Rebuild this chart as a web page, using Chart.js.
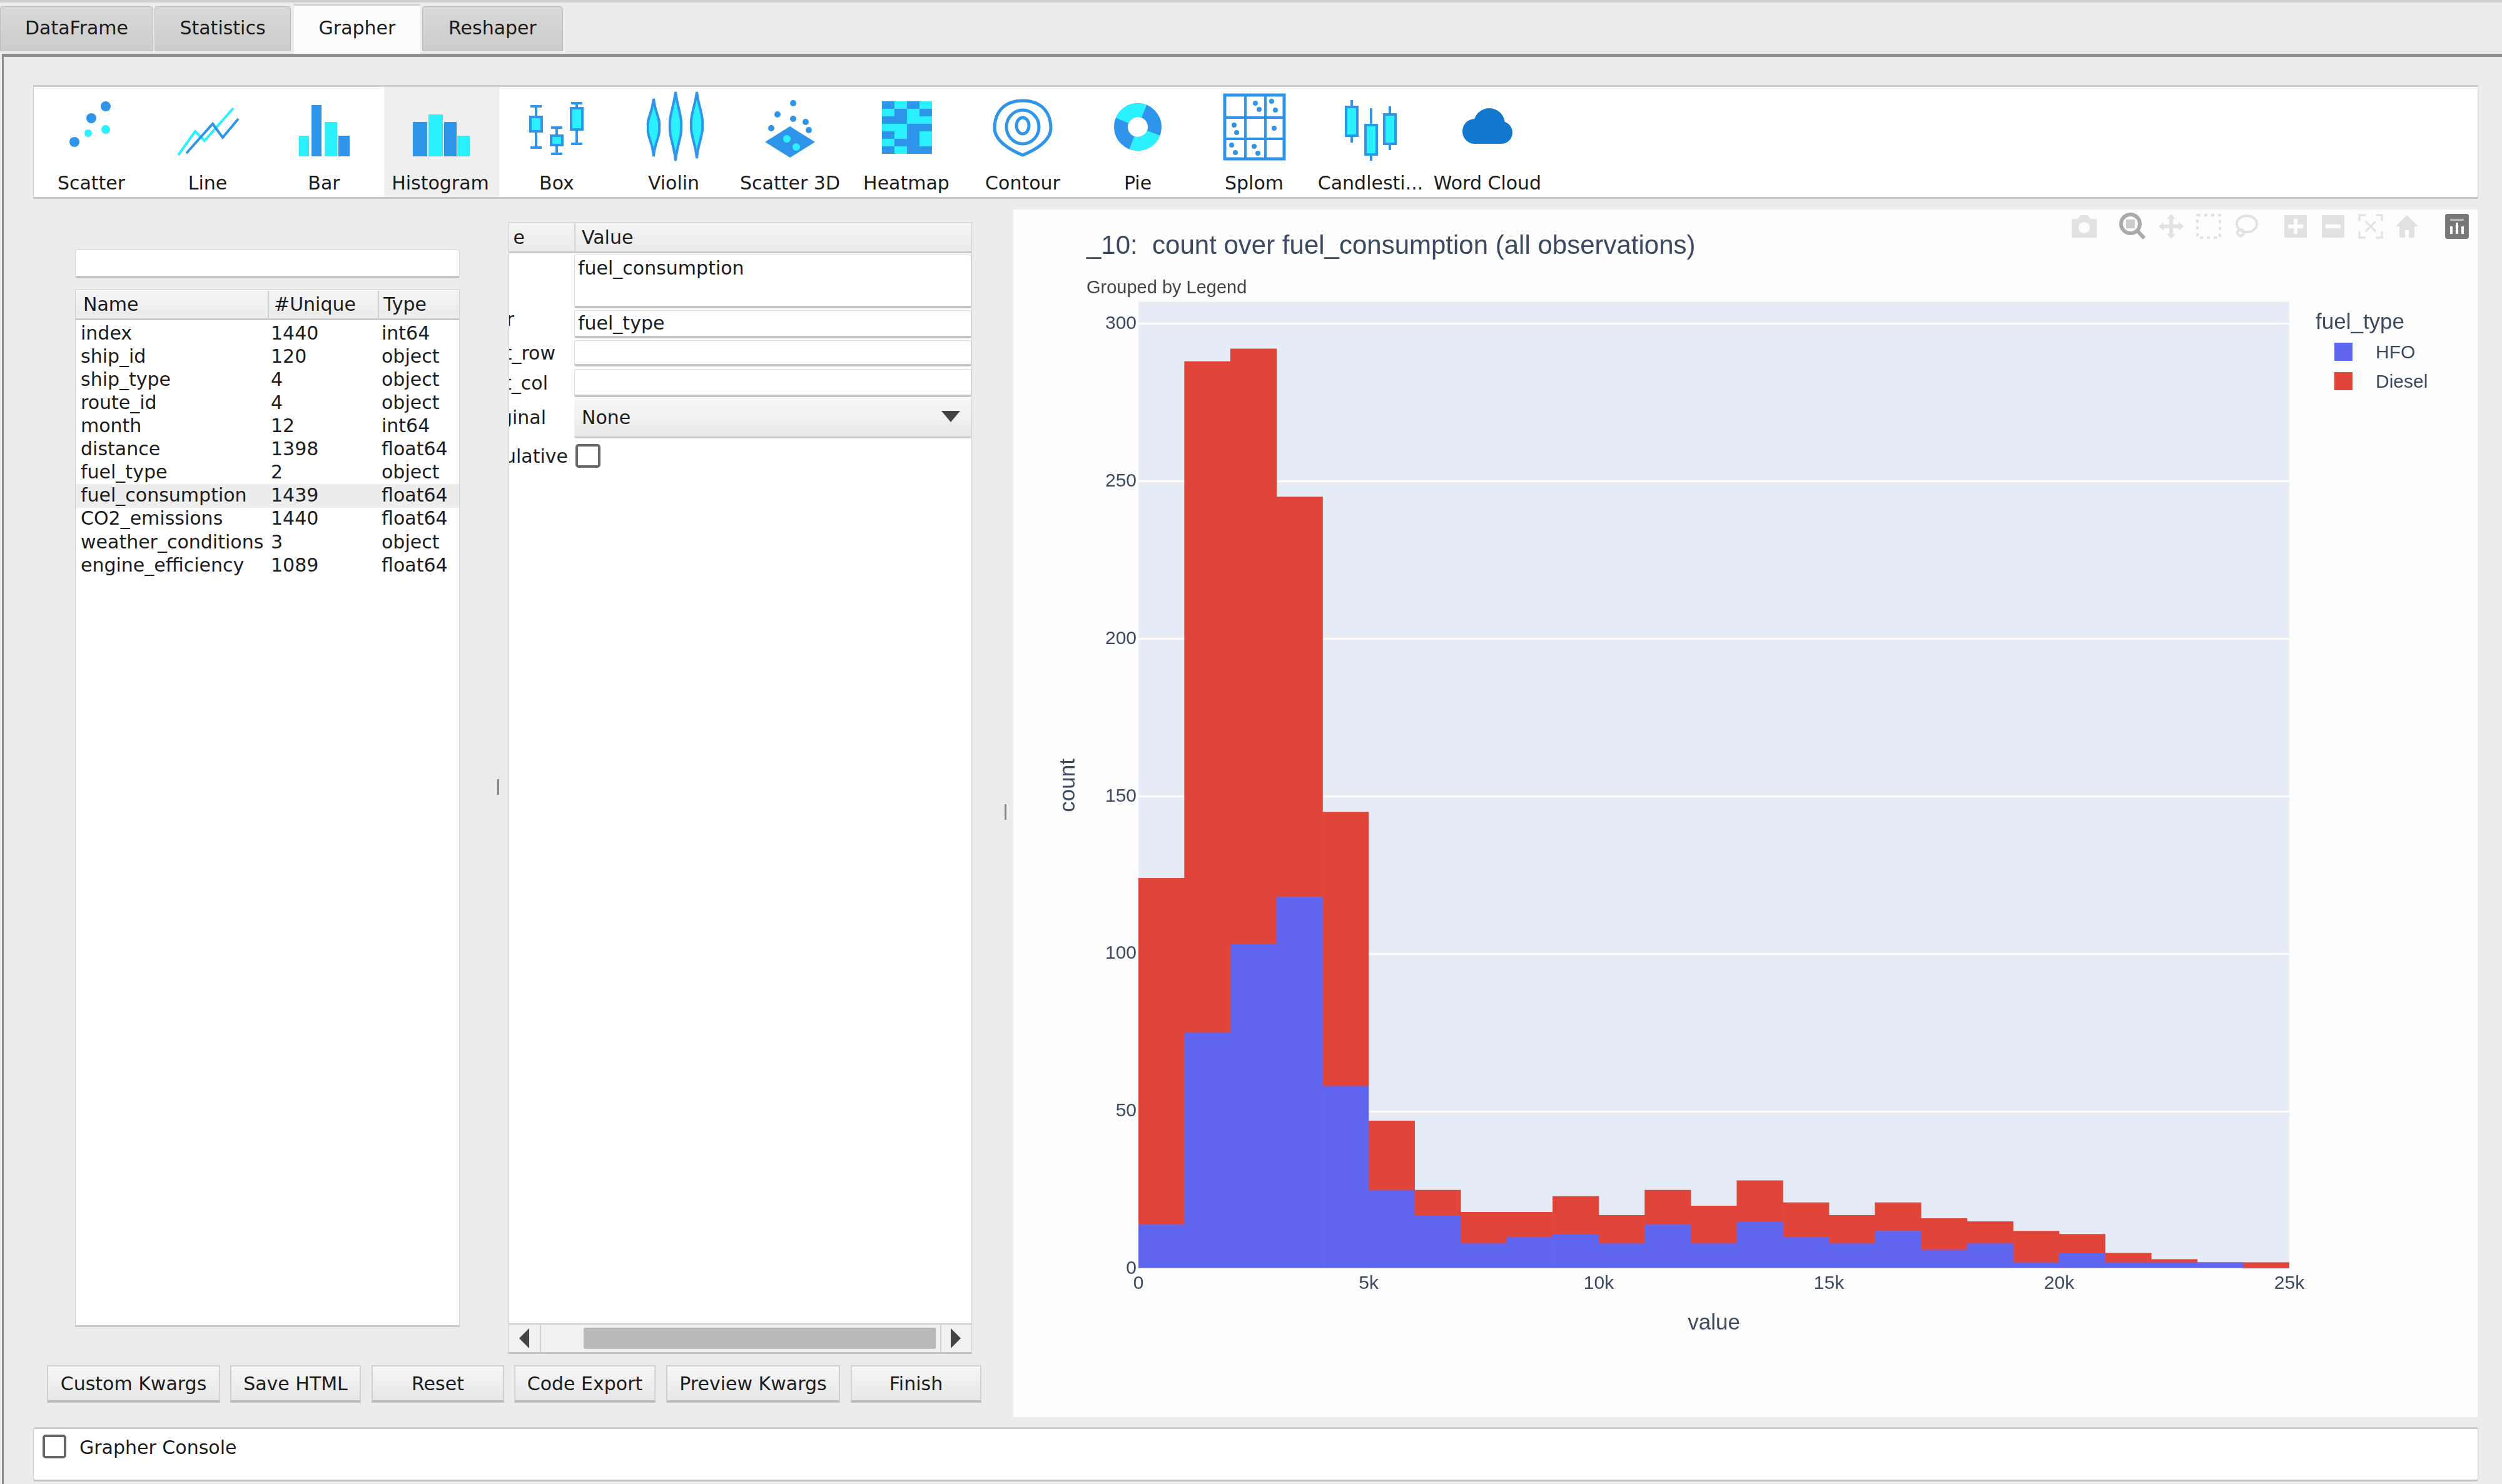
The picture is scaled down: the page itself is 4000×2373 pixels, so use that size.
<!DOCTYPE html>
<html>
<head>
<meta charset="utf-8">
<script src="https://cdn.jsdelivr.net/npm/chart.js@4"></script>
<style>
html, body { margin: 0; padding: 0; background: #ececec; }
#page { position: relative; width: 4000px; height: 2373px; overflow: hidden; font-family: "DejaVu Sans", sans-serif; font-size: 30px; color: #1c1c1c; }
#page div, #page svg { position: absolute; box-sizing: border-box; }
.txt { white-space: pre; line-height: 40px; height: 40px; }
.field { background: #fff; border: 1px solid #d8d8d8; border-bottom: 4px solid #c4c4c4; border-radius: 4px; }
.btn { background: linear-gradient(#f7f7f7, #e6e6e6); border: 2px solid #d0d0d0; border-bottom: 4px solid #bdbdbd; text-align: center; line-height: 56px; white-space: pre; }
.check { background: #fff; border: 4px solid #666; border-radius: 5px; }
#plot { left: 1620px; top: 335px; }
</style>
</head>
<body>
<div id="page"></div>
<script>
"use strict";

// histogram counts per 1k bin of fuel_consumption
const bin_centers = [500, 1500, 2500, 3500, 4500, 5500, 6500, 7500, 8500, 9500, 10500, 11500, 12500, 13500, 14500, 15500, 16500, 17500, 18500, 19500, 20500, 21500, 22500, 23500, 24500]
const hfo_counts = [14, 75, 103, 118, 58, 25, 17, 8, 10, 11, 8, 14, 8, 15, 10, 8, 12, 6, 8, 2, 5, 2, 2, 2, 0]
const diesel_counts = [110, 213, 189, 127, 87, 22, 8, 10, 8, 12, 9, 11, 12, 13, 11, 9, 9, 10, 7, 10, 6, 3, 1, 0, 2]

const x_ticks = [0, 5000, 10000, 15000, 20000, 25000]
const x_tick_labels = ["0", "5k", "10k", "15k", "20k", "25k"]
const y_ticks = [0, 50, 100, 150, 200, 250, 300]

const series_names = ["HFO", "Diesel"]
const series_colours = ["#6166F0", "#E1453A"]

// the dtale style window around the chart
const tabs = [["DataFrame", 0, 245], ["Statistics", 247, 218], ["Grapher", 470, 202], ["Reshaper", 675, 225]]
const chart_types = ["Scatter", "Line", "Bar", "Histogram", "Box", "Violin", "Scatter 3D", "Heatmap", "Contour", "Pie", "Splom", "Candlesti...", "Word Cloud"]
const chart_type_x = [146, 332, 518, 704, 890, 1077, 1263, 1449, 1635, 1819, 2005, 2191, 2378]
const column_names = ["index", "ship_id", "ship_type", "route_id", "month", "distance", "fuel_type", "fuel_consumption", "CO2_emissions", "weather_conditions", "engine_efficiency"]
const column_uniques = ["1440", "120", "4", "4", "12", "1398", "2", "1439", "1440", "3", "1089"]
const column_types = ["int64", "object", "object", "object", "int64", "float64", "object", "float64", "float64", "object", "float64"]
const buttons = [["Custom Kwargs", 75, 277], ["Save HTML", 368, 209], ["Reset", 594, 212], ["Code Export", 822, 226], ["Preview Kwargs", 1065, 278], ["Finish", 1360, 209]]

const BLUE = "#2F95EA", CYAN = "#2AF0FF"
const page = document.getElementById("page")

function box(x, y, w, h, css, cls) {
    const d = document.createElement("div")
    d.style.cssText = "left:"+x+"px;top:"+y+"px;width:"+w+"px;height:"+h+"px;"+(css || "")
    if (cls) d.className = cls
    page.appendChild(d)
    return d
}

function label(text, x, cy, css) {
    const d = document.createElement("div")
    d.className = "txt"
    d.style.cssText = "left:"+x+"px;top:"+(cy-20)+"px;"+(css || "")
    d.textContent = text
    page.appendChild(d)
    return d
}

function centred(text, cx, cy, css) {
    return label(text, cx, cy, "transform:translateX(-50%);"+(css || ""))
}

function svg(x, y, w, h, viewbox, inner) {
    const holder = document.createElement("div")
    holder.innerHTML = '<svg xmlns="http://www.w3.org/2000/svg" width="'+w+'" height="'+h+'" viewBox="'+viewbox+'" style="left:0;top:0">'+inner+'</svg>'
    holder.style.cssText = "left:"+x+"px;top:"+y+"px;width:"+w+"px;height:"+h+"px"
    page.appendChild(holder)
}

function r(x, y, w, h, fill) {
    return '<rect x="'+x+'" y="'+y+'" width="'+w+'" height="'+h+'" fill="'+fill+'"/>'
}
function c(x, y, rad, fill) {
    return '<circle cx="'+x+'" cy="'+y+'" r="'+rad+'" fill="'+fill+'"/>'
}
function candle(x, top, bottom, boxTop, boxBottom) {
    return r(x-2, top, 4, bottom-top, BLUE)+'<rect x="'+(x-9)+'" y="'+boxTop+'" width="18" height="'+(boxBottom-boxTop)+'" fill="'+CYAN+'" stroke="'+BLUE+'" stroke-width="4"/>'
}
function whisker(x, top, bottom, boxTop, boxBottom) {
    return r(x-9, top, 18, 4, BLUE)+r(x-9, bottom-4, 18, 4, BLUE)+candle(x, top, bottom, boxTop, boxBottom)
}
function violin(x, top, bottom) {
    const m = (top+bottom)/2
    return '<path d="M'+x+' '+top+' C'+(x-3)+' '+(top+25)+' '+(x-11)+' '+(m-15)+' '+(x-9)+' '+m+' C'+(x-11)+' '+(m+15)+' '+(x-2)+' '+(bottom-25)+' '+x+' '+bottom+' C'+(x+2)+' '+(bottom-25)+' '+(x+11)+' '+(m+15)+' '+(x+9)+' '+m+' C'+(x+11)+' '+(m-15)+' '+(x+3)+' '+(top+25)+' '+x+' '+top+'Z" fill="'+CYAN+'" stroke="'+BLUE+'" stroke-width="4"/>'
}

function heatmap() {
    const pattern = ["bcbc", "cbcb", "bbcc", "ccbb", "bcbc", "cbbc", "bcbb"]
    let out = ""
    pattern.forEach((row, j) => {
        row.split("").forEach((p, i) => {
            out += r(-39+i*20, 162+j*12, 20, 12, p == "b" ? BLUE : CYAN)
        })
    })
    return out
}

function splom() {
    let out = '<rect x="-47" y="152" width="95" height="102" fill="#fff" stroke="'+BLUE+'" stroke-width="5"/>'
    out += r(-47, 186, 95, 4, BLUE)+r(-47, 220, 95, 4, BLUE)+r(-16, 152, 4, 102, BLUE)+r(16, 152, 4, 102, BLUE)
    const dots = [[2, 165], [8, 175], [28, 162], [34, 176], [-32, 200], [-28, 212], [32, 205], [-36, 232], [-30, 244], [0, 234], [6, 245]]
    dots.forEach(d => { out += c(d[0], d[1], 4, BLUE) })
    return out
}

const icons = [
    c(-27, 227, 8, BLUE)+c(-5, 213, 6, CYAN)+c(0, 189, 8, BLUE)+c(23, 207, 7, CYAN)+c(23, 170, 8, BLUE),
    '<polyline points="-47,248 -20,210 -5,225 41,173" fill="none" stroke="'+CYAN+'" stroke-width="4"/><polyline points="-34,245 8,198 24,220 49,190" fill="none" stroke="'+BLUE+'" stroke-width="4"/>',
    r(-40, 217, 16, 33, CYAN)+r(-20, 168, 16, 82, BLUE)+r(1, 195, 20, 55, CYAN)+r(23, 217, 18, 33, BLUE),
    r(-44, 195, 23, 55, BLUE)+r(-19, 183, 23, 67, CYAN)+r(6, 195, 20, 55, BLUE)+r(27, 217, 20, 33, CYAN),
    whisker(-33, 168, 238, 187, 210)+whisker(0, 202, 248, 217, 232)+whisker(32, 163, 232, 173, 207),
    violin(-32, 158, 250)+violin(3, 147, 257)+violin(37, 147, 253),
    '<path d="M0 202 L40 227 L0 252 L-40 227Z" fill="'+BLUE+'"/>'+c(-5, 222, 6, CYAN)+c(10, 235, 6, CYAN)+c(5, 165, 5, BLUE)+c(-20, 183, 5, BLUE)+c(5, 190, 5, BLUE)+c(25, 195, 5, BLUE)+c(-30, 205, 5, BLUE)+c(30, 208, 5, BLUE),
    heatmap(),
    '<path d="M0 161 C30 161 45 180 45 205 C45 225 20 240 0 248 C-20 240 -45 225 -45 205 C-45 180 -30 161 0 161Z" fill="none" stroke="'+BLUE+'" stroke-width="5"/><ellipse cx="0" cy="203" rx="26" ry="27" fill="none" stroke="'+BLUE+'" stroke-width="5"/><ellipse cx="0" cy="201" rx="10" ry="13" fill="none" stroke="'+BLUE+'" stroke-width="5"/>',
    '<circle cx="0" cy="203" r="27" fill="none" stroke="'+BLUE+'" stroke-width="22"/><circle cx="0" cy="203" r="27" fill="none" stroke="'+CYAN+'" stroke-width="22" stroke-dasharray="42 43" stroke-dashoffset="-10"/>',
    splom(),
    candle(-30, 160, 228, 171, 217)+candle(1, 173, 257, 200, 247)+candle(31, 170, 240, 183, 230),
    c(-20, 210, 20, "#1277CF")+c(3, 198, 25, "#1277CF")+c(22, 212, 18, "#1277CF")+r(-20, 212, 42, 18, "#1277CF")
]

function drawWindow() {
    // tabs and main frame
    box(0, 0, 4000, 4, "background:#cfcfcf")
    tabs.forEach((t, i) => {
        const active = t[0] == "Grapher"
        box(t[1], active ? 6 : 10, t[2], active ? 80 : 72, active ? "background:#fbfbfb;border-top:3px solid #d0d0d0;" : "background:linear-gradient(#d9d9d9,#cbcbcb);border:1px solid #bdbdbd;border-radius:4px 4px 0 0;")
        centred(t[0], t[1]+t[2]/2, 45)
    })
    box(3, 86, 3997, 5, "background:#8f8f8f")
    box(3, 86, 3, 2287, "background:#8f8f8f")

    // chart type strip
    box(53, 136, 3909, 182, "background:#fff;border:1px solid #cfcfcf;border-top:3px solid #cdcdcd;border-bottom:3px solid #c8c8c8")
    box(614, 139, 184, 176, "background:#efefef")
    chart_types.forEach((name, i) => {
        centred(name, chart_type_x[i], 293)
        svg(chart_type_x[i]-60, 145, 120, 115, "-60 145 120 115", icons[i])
    })

    // column picker
    box(120, 399, 615, 46, "", "field")
    box(120, 463, 615, 1659, "background:#fff;border:1px solid #cfcfcf;border-bottom:3px solid #c8c8c8")
    box(121, 465, 613, 47, "background:linear-gradient(#f4f4f4,#ebebeb);border-bottom:3px solid #c9c9c9")
    box(428, 465, 2, 47, "background:#cfcfcf")
    box(604, 465, 2, 47, "background:#cfcfcf")
    label("Name", 133, 487)
    label("#Unique", 438, 487)
    label("Type", 613, 487)
    box(121, 774, 613, 38, "background:#ededed")
    column_names.forEach((name, i) => {
        const y = 532.6 + i*37.1
        label(name, 129, y)
        label(column_uniques[i], 433, y)
        label(column_types[i], 610, y)
    })

    // kwargs table
    box(813, 355, 741, 1762, "background:#fff;border:1px solid #cfcfcf")
    box(814, 357, 739, 48, "background:linear-gradient(#f4f4f4,#ebebeb);border-bottom:3px solid #c9c9c9")
    box(918, 357, 2, 48, "background:#cfcfcf")
    box(918, 407, 635, 86, "", "field")
    box(918, 496, 635, 45, "", "field")
    box(918, 544, 635, 42, "", "field")
    box(918, 590, 635, 45, "", "field")
    box(918, 637, 635, 64, "background:linear-gradient(#f7f7f7,#e9e9e9);border-bottom:3px solid #c8c8c8;border-radius:4px")
    label("Value", 930, 380)
    label("fuel_consumption", 924, 429)
    label("fuel_type", 924, 517)
    label("None", 930, 668)
    svg(1505, 657, 30, 18, "0 0 30 18", '<path d="M0 0 L30 0 L15 18Z" fill="#444"/>')
    box(920, 710, 40, 38, "", "check")
    const clip = box(814, 355, 104, 400, "overflow:hidden")
    const clipped = [["e", 25, 839], ["r", 156, 822], ["t_row", 210, 888], ["t_col", 258, 876], ["ginal", 313, 873], ["ulative", 375, 908]]
    clipped.forEach(t => {
        const d = document.createElement("div")
        d.className = "txt"
        d.style.cssText = "right:"+(918-t[2])+"px;top:"+(t[1]-20)+"px"
        d.textContent = t[0]
        clip.appendChild(d)
    })

    // scrollbar
    box(812, 2117, 742, 48, "background:#f1f1f1;border:1px solid #cfcfcf;border-bottom:3px solid #c4c4c4")
    box(863, 2117, 2, 48, "background:#cfcfcf")
    box(1503, 2117, 2, 48, "background:#cfcfcf")
    box(933, 2123, 563, 34, "background:#b9b9b9;border-radius:3px")
    svg(830, 2124, 16, 32, "0 0 16 32", '<path d="M16 0 L16 32 L0 16Z" fill="#444"/>')
    svg(1520, 2124, 16, 32, "0 0 16 32", '<path d="M0 0 L0 32 L16 16Z" fill="#444"/>')

    // splitters
    box(795, 1246, 3, 25, "background:#888")
    box(1606, 1286, 3, 25, "background:#888")

    // buttons
    buttons.forEach(b => { box(b[1], 2183, b[2], 60, "", "btn").textContent = b[0] })

    // console strip
    box(53, 2282, 3909, 87, "background:#fff;border:1px solid #cfcfcf;border-top:3px solid #cdcdcd;border-bottom:3px solid #c4c4c4;border-radius:4px")
    box(68, 2294, 38, 38, "", "check")
    label("Grapher Console", 127, 2315)

    // plot panel
    box(1620, 335, 2341, 1931, "background:#fdfdfd")
}

function drawModebar() {
    const light = "#E2E2E2"
    svg(3310, 342, 44, 40, "0 0 44 40", '<path d="M2 8 H12 L16 2 H28 L32 8 H42 V38 H2Z" fill="'+light+'"/><circle cx="22" cy="22" r="9" fill="#fdfdfd"/>')
    svg(3388, 340, 44, 44, "0 0 44 44", '<circle cx="18" cy="18" r="15" fill="none" stroke="#aaa" stroke-width="6"/><rect x="11" y="11" width="14" height="14" fill="#ccc"/><path d="M29 29 L40 41" stroke="#aaa" stroke-width="6"/>')
    svg(3451, 342, 40, 40, "0 0 40 40", '<path d="M20 0 L27 8 H23 V17 H32 V13 L40 20 L32 27 V23 H23 V32 H27 L20 40 L13 32 H17 V23 H8 V27 L0 20 L8 13 V17 H17 V8 H13Z" fill="'+light+'"/>')
    svg(3511, 342, 40, 40, "0 0 40 40", '<rect x="2" y="2" width="36" height="36" fill="none" stroke="'+light+'" stroke-width="4" stroke-dasharray="5 6"/>')
    svg(3571, 342, 40, 40, "0 0 40 40", '<ellipse cx="21" cy="16" rx="16" ry="13" fill="none" stroke="'+light+'" stroke-width="4"/><circle cx="11" cy="30" r="5" fill="none" stroke="'+light+'" stroke-width="4"/>')
    svg(3652, 344, 36, 36, "0 0 36 36", r(0, 0, 36, 36, light)+r(15, 6, 6, 24, "#fdfdfd")+r(6, 15, 24, 6, "#fdfdfd"))
    svg(3712, 344, 36, 36, "0 0 36 36", r(0, 0, 36, 36, light)+r(6, 15, 24, 6, "#fdfdfd"))
    svg(3770, 342, 40, 40, "0 0 40 40", '<path d="M2 12 V2 H12 M28 2 H38 V12 M38 28 V38 H28 M12 38 H2 V28 M12 12 L28 28 M28 12 L12 28" fill="none" stroke="'+light+'" stroke-width="3"/>')
    svg(3830, 344, 36, 36, "0 0 36 36", '<path d="M18 0 L36 18 H30 V36 H21 V24 H15 V36 H6 V18 H0Z" fill="'+light+'"/>')
    svg(3909, 342, 38, 40, "0 0 38 40", '<rect width="38" height="40" rx="4" fill="#777"/>'+r(8, 20, 4, 12, "#fff")+r(17, 14, 4, 18, "#fff")+r(26, 20, 4, 12, "#fff")+r(8, 8, 22, 3, "#bbb"))
}

drawWindow()
drawModebar()

const holder = document.createElement("div")
holder.id = "plot"
holder.style.width = "2341px"
holder.style.height = "1931px"
const canv = document.createElement("canvas")
canv.id = "chart_canvas"
canv.width = 2341
canv.height = 1931
canv.style.cssText = "display:block;width:2341px;height:1931px"
holder.appendChild(canv)
page.appendChild(holder)

const PLOT_FONT = '"Liberation Sans", Arial, sans-serif'
const INK = "#3a4a63"

const plot_background = {
    id: "plot_background",
    beforeDraw(chart) {
        const a = chart.chartArea
        chart.ctx.save()
        chart.ctx.fillStyle = "#E5ECF6"
        chart.ctx.fillRect(a.left, a.top, a.right - a.left, a.bottom - a.top)
        chart.ctx.restore()
    }
}

// plotly keeps its title right of the y axis title, chart.js would not
const shift_titles = {
    id: "shift_titles",
    afterLayout(chart) {
        chart.boxes.forEach(b => {
            if (b.options && (b.options.text == chart.options.plugins.title.text || b.options.text == chart.options.plugins.subtitle.text)) {
                b.left = 117
            }
        })
    }
}

const data = {
    datasets: [
        {
            label: series_names[0],
            data: bin_centers.map((x, i) => ({x: x, y: hfo_counts[i]})),
            backgroundColor: series_colours[0],
            barPercentage: 1,
            categoryPercentage: 1
        },
        {
            label: series_names[1],
            data: bin_centers.map((x, i) => ({x: x, y: diesel_counts[i]})),
            backgroundColor: series_colours[1],
            barPercentage: 1,
            categoryPercentage: 1
        }
    ]
}

const config = {
    type: "bar",
    data: data,
    options: {
        responsive: false,
        animation: false,
        devicePixelRatio: 1,
        layout: {padding: {left: 0, top: 0, right: 301, bottom: 127}},
        plugins: {
            legend: {display: false},
            tooltip: {enabled: false},
            title: {
                display: true,
                text: "_10:  count over fuel_consumption (all observations)",
                align: "start",
                color: INK,
                font: {family: PLOT_FONT, size: 42, weight: "normal", lineHeight: 1.2},
                padding: {top: 34, bottom: 12}
            },
            subtitle: {
                display: true,
                text: "Grouped by Legend",
                align: "start",
                color: "#444",
                font: {family: PLOT_FONT, size: 29, weight: "normal", lineHeight: 1.2},
                padding: {top: 12, bottom: 4.6}
            }
        },
        scales: {
            x: {
                type: "linear",
                stacked: true,
                offset: false,
                min: 0,
                max: 25000,
                grid: {display: false, drawTicks: false},
                border: {display: false},
                afterBuildTicks: axis => { axis.ticks = x_ticks.map(v => ({value: v})) },
                ticks: {
                    maxRotation: 0,
                    autoSkip: false,
                    padding: 6,
                    color: INK,
                    font: {family: PLOT_FONT, size: 30},
                    callback: v => x_tick_labels[x_ticks.indexOf(v)]
                },
                title: {
                    display: true,
                    text: "value",
                    color: INK,
                    font: {family: PLOT_FONT, size: 35},
                    padding: {top: 18, bottom: 2}
                }
            },
            y: {
                stacked: true,
                min: 0,
                max: 306.9,
                grid: {color: "#ffffff", lineWidth: 3, drawTicks: false},
                border: {display: false},
                afterBuildTicks: axis => { axis.ticks = y_ticks.map(v => ({value: v})) },
                ticks: {
                    padding: 3,
                    color: INK,
                    font: {family: PLOT_FONT, size: 30}
                },
                title: {
                    display: true,
                    text: "count",
                    color: INK,
                    font: {family: PLOT_FONT, size: 35},
                    padding: {top: 67, bottom: 35}
                }
            }
        }
    },
    plugins: [plot_background, shift_titles]
}

const chart = new Chart(canv, config)

// legend as plain html next to the plot
function drawLegend() {
    label("fuel_type", 3702, 514, 'font-family:"Liberation Sans",Arial,sans-serif;font-size:35px;color:'+INK)
    chart.data.datasets.forEach((d, i) => {
        box(3732, 548 + i*47, 29, 29, "background:"+d.backgroundColor)
        label(d.label, 3798, 563 + i*47, 'font-family:"Liberation Sans",Arial,sans-serif;font-size:30px;color:'+INK)
    })
}
drawLegend()
</script>
</body>
</html>
